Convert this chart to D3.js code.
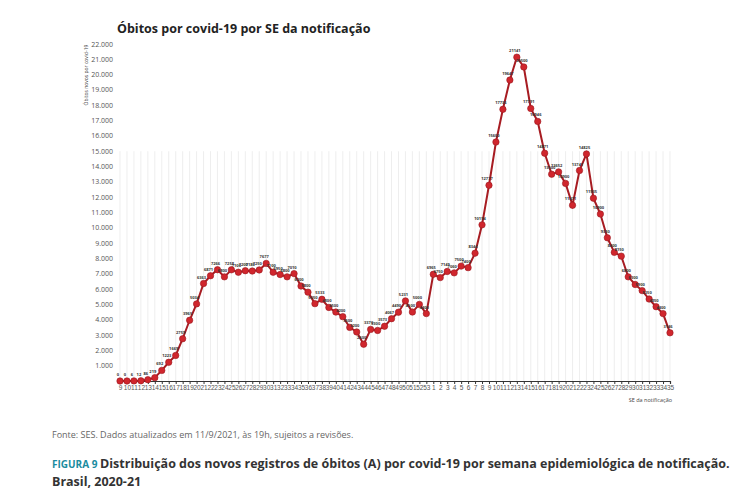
<!DOCTYPE html>
<html><head><meta charset="utf-8">
<script src="https://cdn.jsdelivr.net/npm/d3@7"></script>
<style>body{margin:0;background:#fff;font-family:"Open Sans",sans-serif}</style>
</head><body><svg id="c" width="754" height="504"></svg>
<script>
const weeks2020 = d3.range(9, 54).map(String);
const weeks2021 = d3.range(1, 36).map(String);
const weekLabels = weeks2020.concat(weeks2021);
const deaths = [0,0,6,12,86,219,692,1223,1669,2759,3965,5034,6363,6871,7266,6800,7258,7100,7200,7180,7250,7677,7100,6950,6800,7010,6200,5800,5050,5333,4800,4500,4200,3500,3200,2400,3370,3300,3573,4067,4490,5231,4500,5000,4400,
 6965,6750,7149,7060,7500,7400,8344,10194,12777,15600,17736,19647,21141,20500,17791,16946,14871,13500,13652,12900,11471,13741,14825,11935,10900,9350,8400,8150,6800,6300,5900,5350,4850,4400,3146];
const yTicks = d3.range(1000, 22001, 1000);

const svg = d3.select("#c");
const x = d3.scalePoint().domain(d3.range(weekLabels.length)).range([120, 670]);
const y = d3.scaleLinear().domain([0, 22000]).range([381, 44]);

svg.append("text").attr("x",117).attr("y",33).attr("font-size",12.5).attr("font-weight","bold").attr("fill","#222").text("Óbitos por covid-19 por SE da notificação");

svg.selectAll(".yt").data(yTicks).join("text").attr("x",113).attr("y",d=>y(d)+2.5).attr("text-anchor","end")
 .attr("font-size",7).attr("fill","#555").text(d=>d3.format(",")(d).replace(/,/g,"."));
svg.append("text").attr("transform","translate(88,75) rotate(-90)").attr("text-anchor","middle").attr("font-size",5).attr("fill","#444").text("Óbitos novos por covid-19");

svg.selectAll(".vg").data(deaths).join("line").attr("x1",(d,i)=>x(i)).attr("x2",(d,i)=>x(i))
 .attr("y1",y(15000)).attr("y2",381).attr("stroke","#e6e6e6").attr("stroke-width",0.7);

const ax = svg.append("g").attr("transform","translate(0,381)").call(d3.axisBottom(x).tickSize(3).tickFormat(i=>weekLabels[i]));
ax.select(".domain").attr("stroke","#333").attr("stroke-width",1.2);
ax.selectAll("line").attr("stroke","#333");
ax.selectAll("text").attr("font-size",6.5).attr("fill","#555").attr("dy","0.4em");
svg.append("text").attr("x",672).attr("y",402).attr("text-anchor","end").attr("font-size",5.5).attr("fill","#444").text("SE da notificação");

svg.append("path").datum(deaths).attr("fill","none").attr("stroke","#a71c22").attr("stroke-width",2)
 .attr("d",d3.line().x((d,i)=>x(i)).y(d=>y(d)));
svg.selectAll(".pt").data(deaths).join("circle").attr("cx",(d,i)=>x(i)).attr("cy",d=>y(d)).attr("r",3.2)
 .attr("fill","#d0262d").attr("stroke","#9a1a20").attr("stroke-width",0.6);
svg.selectAll(".lb").data(deaths).join("text").attr("x",(d,i)=>x(i)-2).attr("y",d=>y(d)-5).attr("text-anchor","middle")
 .attr("font-size",4).attr("font-weight","bold").attr("fill","#333").text(d=>d);

svg.append("text").attr("x",52).attr("y",438).attr("font-size",9).attr("fill","#666").text("Fonte: SES. Dados atualizados em 11/9/2021, às 19h, sujeitos a revisões.");
const t = svg.append("text").attr("x",52).attr("y",468).attr("font-size",12.5).attr("font-weight","bold").attr("fill","#333");
t.append("tspan").attr("fill","#1a8ca0").attr("font-size",10).text("FIGURA 9 ");
t.append("tspan").text("Distribuição dos novos registros de óbitos (A) por covid-19 por semana epidemiológica de notificação.");
svg.append("text").attr("x",52).attr("y",486).attr("font-size",12.5).attr("font-weight","bold").attr("fill","#333").text("Brasil, 2020-21");
</script></body></html>
